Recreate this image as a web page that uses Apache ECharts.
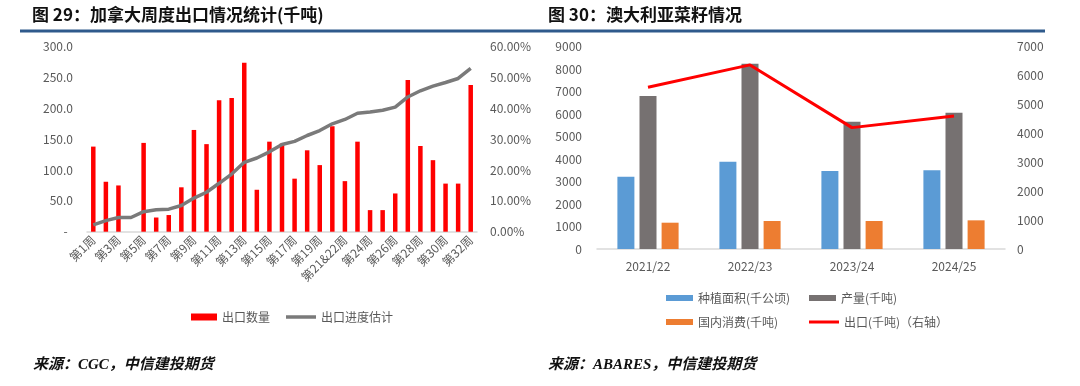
<!DOCTYPE html>
<html>
<head>
<meta charset="utf-8">
<script src="https://cdn.jsdelivr.net/npm/echarts@6/dist/echarts.min.js"></script>
<style>
html,body{margin:0;padding:0;background:#fff;}
#c{width:1080px;height:386px;}
</style>
</head>
<body>
<div id="c"></div>
<script>
// ---- Left chart data: Canada weekly exports ----
const weeks = ['第1周','第2周','第3周','第4周','第5周','第6周','第7周','第8周','第9周','第10周',
  '第11周','第12周','第13周','第14周','第15周','第16周','第17周','第18周','第19周','第20周',
  '第21&22周','第23周','第24周','第25周','第26周','第27周','第28周','第29周','第30周','第31周','第32周'];
const exportQty = [138, 81, 75, 0, 144, 23, 27, 72, 165, 142, 213, 217, 274, 68, 146, 143, 86, 132, 108, 171,
  82, 146, 35, 35, 62, 246, 139, 116, 78, 78, 238];
const exportProgress = [0.022, 0.036, 0.046, 0.046, 0.065, 0.071, 0.073, 0.085, 0.109, 0.128, 0.157, 0.187, 0.225,
  0.239, 0.259, 0.283, 0.293, 0.312, 0.328, 0.350, 0.364, 0.384, 0.388, 0.394, 0.404, 0.437, 0.457, 0.472, 0.484, 0.497, 0.530];
const leftTicks = {min: 0, max: 300, interval: 50};
const pctTicks = {min: 0, max: 0.6, interval: 0.1};

// ---- Right chart data: Australia rapeseed ----
const seasons = ['2021/22','2022/23','2023/24','2024/25'];
const plantedArea = [3216, 3884, 3470, 3500];
const production = [6806, 8244, 5663, 6064];
const domesticUse = [1170, 1245, 1245, 1275];
const exportsAU = [5600, 6370, 4200, 4600];
const auLeftTicks = {min: 0, max: 9000, interval: 1000};
const auRightTicks = {min: 0, max: 7000, interval: 1000};

const gray = '#595959';
const axisLineColor = '#D9D9D9';
const font = '"Noto Sans CJK SC", "Noto Sans", sans-serif';

const chart = echarts.init(document.getElementById('c'));
const legendText = {color: gray, fontSize: 12, fontFamily: font};
const plain = v => String(v);

chart.setOption({
  animation: false,
  textStyle: {fontFamily: font},
  grid: [
    {left: 87, right: 603, top: 46.7, bottom: 154.3},
    {left: 597, right: 75, top: 46.7, bottom: 137}
  ],
  xAxis: [
    {type: 'category', gridIndex: 0, data: weeks,
     axisLine: {lineStyle: {color: axisLineColor, width: 1.5}},
     axisTick: {show: false},
     axisLabel: {interval: 1, rotate: 45, color: gray, fontSize: 12, margin: 6}},
    {type: 'category', gridIndex: 1, data: seasons,
     axisLine: {lineStyle: {color: axisLineColor, width: 1.5}},
     axisTick: {show: false},
     axisLabel: {color: gray, fontSize: 12, margin: 11}}
  ],
  yAxis: [
    {type: 'value', gridIndex: 0, min: leftTicks.min, max: leftTicks.max, interval: leftTicks.interval,
     splitLine: {show: false}, axisLine: {show: false}, axisTick: {show: false},
     axisLabel: {color: gray, fontSize: 12, margin: 14,
       formatter: v => v === 0 ? '-  ' : v.toFixed(1)}},
    {type: 'value', gridIndex: 0, position: 'right', min: pctTicks.min, max: pctTicks.max, interval: pctTicks.interval,
     splitLine: {show: false}, axisLine: {show: false}, axisTick: {show: false},
     axisLabel: {color: gray, fontSize: 12, margin: 13,
       formatter: v => (v * 100).toFixed(2) + '%'}},
    {type: 'value', gridIndex: 1, min: auLeftTicks.min, max: auLeftTicks.max, interval: auLeftTicks.interval,
     splitLine: {show: false}, axisLine: {show: false}, axisTick: {show: false},
     axisLabel: {color: gray, fontSize: 12, margin: 15, formatter: plain}},
    {type: 'value', gridIndex: 1, position: 'right', min: auRightTicks.min, max: auRightTicks.max, interval: auRightTicks.interval,
     splitLine: {show: false}, axisLine: {show: false}, axisTick: {show: false},
     axisLabel: {color: gray, fontSize: 12, margin: 12, formatter: plain}}
  ],
  legend: [
    {left: 186, top: 306, itemWidth: 26, itemHeight: 7, textStyle: legendText,
     data: [{name: '出口数量', icon: 'rect'}]},
    {left: 281, top: 306, itemWidth: 30, itemHeight: 3.5, textStyle: legendText,
     data: [{name: '出口进度估计', icon: 'rect'}]},
    {left: 661, top: 287, itemWidth: 27, itemHeight: 6, textStyle: legendText,
     data: [{name: '种植面积(千公顷)', icon: 'rect'}]},
    {left: 804, top: 287, itemWidth: 27, itemHeight: 6, textStyle: legendText,
     data: [{name: '产量(千吨)', icon: 'rect'}]},
    {left: 661, top: 311, itemWidth: 27, itemHeight: 6, textStyle: legendText,
     data: [{name: '国内消费(千吨)', icon: 'rect'}]},
    {left: 804, top: 311, itemWidth: 30, itemHeight: 3, textStyle: legendText,
     data: [{name: '出口(千吨)（右轴）', icon: 'rect'}]}
  ],
  series: [
    {name: '出口数量', type: 'bar', xAxisIndex: 0, yAxisIndex: 0, data: exportQty,
     barWidth: 4.5, itemStyle: {color: '#FF0000'}},
    {name: '出口进度估计', type: 'line', xAxisIndex: 0, yAxisIndex: 1, data: exportProgress,
     symbol: 'none', lineStyle: {color: '#7A7A7A', width: 3.5}, itemStyle: {color: '#7A7A7A'}},
    {name: '种植面积(千公顷)', type: 'bar', xAxisIndex: 1, yAxisIndex: 2, data: plantedArea,
     barWidth: 17, barGap: '30%', itemStyle: {color: '#5B9BD5'}},
    {name: '产量(千吨)', type: 'bar', xAxisIndex: 1, yAxisIndex: 2, data: production,
     barWidth: 17, barGap: '30%', itemStyle: {color: '#767171'}},
    {name: '国内消费(千吨)', type: 'bar', xAxisIndex: 1, yAxisIndex: 2, data: domesticUse,
     barWidth: 17, barGap: '30%', itemStyle: {color: '#ED7D31'}},
    {name: '出口(千吨)（右轴）', type: 'line', xAxisIndex: 1, yAxisIndex: 3, data: exportsAU,
     symbol: 'none', lineStyle: {color: '#FF0000', width: 3}, itemStyle: {color: '#FF0000'}}
  ],
  graphic: [
    {type: 'text', left: 32, top: 6,
     style: {text: '图 29：加拿大周度出口情况统计(千吨)', font: 'bold 17px ' + font, fill: '#111'}},
    {type: 'text', left: 548, top: 6,
     style: {text: '图 30：澳大利亚菜籽情况', font: 'bold 17px ' + font, fill: '#111'}},
    {type: 'rect', shape: {x: 20, y: 29.5, width: 1025, height: 3},
     style: {fill: '#2F5A8C'}},
    {type: 'text', left: 33, top: 358,
     style: {text: '来源：CGC，中信建投期货', font: 'italic bold 15px "Liberation Serif", ' + font, fill: '#111'}},
    {type: 'text', left: 548, top: 358,
     style: {text: '来源：ABARES，中信建投期货', font: 'italic bold 15px "Liberation Serif", ' + font, fill: '#111'}}
  ]
});
</script>
</body>
</html>
